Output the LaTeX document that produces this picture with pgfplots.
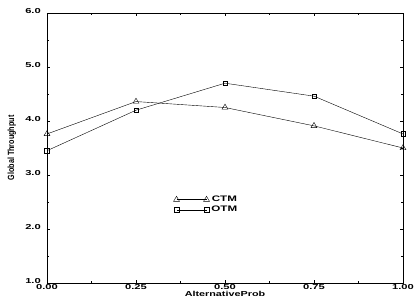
\documentclass[border=0pt]{standalone}
\usepackage{fontspec}
\setmainfont{Liberation Sans}
\usepackage{graphicx}
\usepackage{pgfplots}
\pgfplotsset{compat=1.18}
\newcommand{\tl}[1]{\scalebox{1.55}[1]{\fontsize{7.2}{8}\selectfont\bfseries #1}}
\begin{document}
\begin{tikzpicture}
\begin{axis}[
  name=ax,
  scale only axis,
  width=356pt, height=270pt,
  xmin=0, xmax=1, ymin=1, ymax=6,
  xtick={0,0.25,0.5,0.75,1},
  xticklabels={\tl{0.00},\tl{0.25},\tl{0.50},\tl{0.75},\tl{1.00}},
  ytick={1,2,3,4,5,6},
  yticklabels={\tl{1.0},\tl{2.0},\tl{3.0},\tl{4.0},\tl{5.0},\tl{6.0}},
  minor x tick num=1, minor y tick num=1,
  tick align=inside,
  major tick length=3pt, minor tick length=2pt,
  tick style={black, thin},
  axis line style={black, thin},
  xticklabel style={inner sep=1pt, yshift=0pt},
  yticklabel style={inner sep=1pt, xshift=-5pt, yshift=2pt},
  xlabel={\scalebox{1.5}[1]{\fontsize{7.2}{8}\selectfont\bfseries AlternativeProb}},
  ylabel={\scalebox{0.8}[1]{\fontsize{9}{10}\selectfont\bfseries Global Throughput}},
  xlabel style={inner sep=0pt, yshift=-0.5pt},
  ylabel style={inner sep=0pt, yshift=8pt},
  legend style={draw=none, fill=none, at={(0.355,0.33)}, anchor=north west, inner sep=0pt, row sep=-1pt,
    font=\fontsize{8}{9}\selectfont\bfseries},
  legend image code/.code={
    \draw[#1] (0cm,0cm) -- (30pt,0cm);
    \draw[#1, only marks] plot coordinates {(0cm,0cm) (30pt,0cm)};
  },
]
\addplot[black, thin, mark=triangle, mark size=3.4pt, mark options={solid}] coordinates {
(0,3.76) (0.25,4.36) (0.5,4.25) (0.75,3.91) (1,3.5)};
\addlegendentry{\scalebox{1.45}[1]{CTM}}
\addplot[black, thin, mark=square, mark size=2.3pt] coordinates {
(0,3.45) (0.25,4.2) (0.5,4.7) (0.75,4.46) (1,3.76)};
\addlegendentry{\scalebox{1.45}[1]{OTM}}
\end{axis}
\pgfresetboundingbox
\path (ax.south west) ++(-47pt,-14pt) coordinate (bl);
\path (ax.north east) ++(12pt,13pt) coordinate (tr);
\useasboundingbox (bl) rectangle (tr);
\end{tikzpicture}
\end{document}
